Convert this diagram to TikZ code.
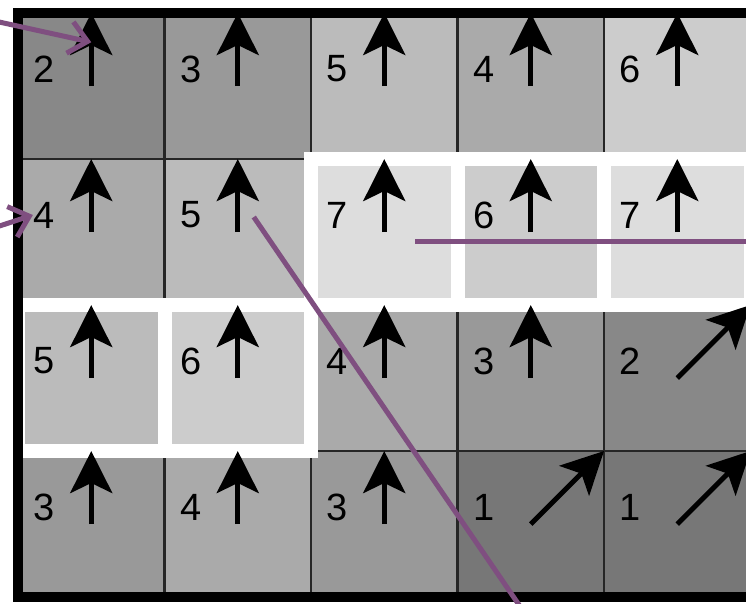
\documentclass[tikz,border=0pt]{standalone}
\usepackage{fontspec}
\setmainfont{Liberation Sans}
\usetikzlibrary{positioning,arrows.meta,calc}

\definecolor{lv1}{HTML}{777777}
\definecolor{lv2}{HTML}{888888}
\definecolor{lv3}{HTML}{999999}
\definecolor{lv4}{HTML}{AAAAAA}
\definecolor{lv5}{HTML}{BBBBBB}
\definecolor{lv6}{HTML}{CCCCCC}
\definecolor{lv7}{HTML}{DDDDDD}
\definecolor{notecol}{HTML}{7F4F80}

\begin{document}
\begin{tikzpicture}[
		x=0.25pt, y=-0.25pt,
		node distance=0pt,
		cell/.style={rectangle, draw=black!85, line width=0.6pt, fill=lv#1,
			minimum width=36.625pt, minimum height=36.5pt, inner sep=0pt, outer sep=0pt},
		num/.style={inner sep=0pt, font=\fontsize{9.5}{10}\selectfont},
		dir/.style={line width=1.25pt, -{Stealth[length=10.5pt, width=10.5pt, inset=2.5pt]}},
		hilite/.style={draw=white, line width=3.5pt},
		frame/.style={draw=black, line width=2.5pt},
		note/.style={draw=notecol, line width=1.25pt},
		notearrow/.style={note, -{Straight Barb[length=4.5pt, width=8pt]}}
	]
	\clip (0,0) rectangle (746,603);
	% grid of values
	\node[cell=2] (c11) at (91.25,86) {};
	\node[cell=3, right=of c11] (c12) {};
	\node[cell=5, right=of c12] (c13) {};
	\node[cell=4, right=of c13] (c14) {};
	\node[cell=6, right=of c14] (c15) {};
	\node[cell=4, below=of c11] (c21) {};
	\node[cell=5, right=of c21] (c22) {};
	\node[cell=7, right=of c22] (c23) {};
	\node[cell=6, right=of c23] (c24) {};
	\node[cell=7, right=of c24] (c25) {};
	\node[cell=5, below=of c21] (c31) {};
	\node[cell=6, right=of c31] (c32) {};
	\node[cell=4, right=of c32] (c33) {};
	\node[cell=3, right=of c33] (c34) {};
	\node[cell=2, right=of c34] (c35) {};
	\node[cell=3, below=of c31] (c41) {};
	\node[cell=4, right=of c41] (c42) {};
	\node[cell=3, right=of c42] (c43) {};
	\node[cell=1, right=of c43] (c44) {};
	\node[cell=1, right=of c44] (c45) {};
	% highlighted cells
	\draw[hilite] (c23.north west) rectangle (c23.south east);
	\draw[hilite] (c24.north west) rectangle (c24.south east);
	\draw[hilite] (c25.north west) rectangle (c25.south east);
	\draw[hilite] (c31.north west) rectangle (c31.south east);
	\draw[hilite] (c32.north west) rectangle (c32.south east);
	% numbers
	\node[num] (n11) at ($(c11.center)+(-47,-17)$) {2};
	\node[num] (n12) at ($(c12.center)+(-47,-17)$) {3};
	\node[num] (n13) at ($(c13.center)+(-47,-17)$) {5};
	\node[num] (n14) at ($(c14.center)+(-47,-17)$) {4};
	\node[num] (n15) at ($(c15.center)+(-47,-17)$) {6};
	\node[num] (n21) at ($(c21.center)+(-47,-17)$) {4};
	\node[num] (n22) at ($(c22.center)+(-47,-17)$) {5};
	\node[num] (n23) at ($(c23.center)+(-47,-17)$) {7};
	\node[num] (n24) at ($(c24.center)+(-47,-17)$) {6};
	\node[num] (n25) at ($(c25.center)+(-47,-17)$) {7};
	\node[num] (n31) at ($(c31.center)+(-47,-17)$) {5};
	\node[num] (n32) at ($(c32.center)+(-47,-17)$) {6};
	\node[num] (n33) at ($(c33.center)+(-47,-17)$) {4};
	\node[num] (n34) at ($(c34.center)+(-47,-17)$) {3};
	\node[num] (n35) at ($(c35.center)+(-47,-17)$) {2};
	\node[num] (n41) at ($(c41.center)+(-47,-17)$) {3};
	\node[num] (n42) at ($(c42.center)+(-47,-17)$) {4};
	\node[num] (n43) at ($(c43.center)+(-47,-17)$) {3};
	\node[num] (n44) at ($(c44.center)+(-47,-17)$) {1};
	\node[num] (n45) at ($(c45.center)+(-47,-17)$) {1};
	% directions
	\draw[dir] (c11.center) -- (c11.north);
	\draw[dir] (c12.center) -- (c12.north);
	\draw[dir] (c13.center) -- (c13.north);
	\draw[dir] (c14.center) -- (c14.north);
	\draw[dir] (c15.center) -- (c15.north);
	\draw[dir] (c21.center) -- (c21.north);
	\draw[dir] (c22.center) -- (c22.north);
	\draw[dir] (c23.center) -- (c23.north);
	\draw[dir] (c24.center) -- (c24.north);
	\draw[dir] (c25.center) -- (c25.north);
	\draw[dir] (c31.center) -- (c31.north);
	\draw[dir] (c32.center) -- (c32.north);
	\draw[dir] (c33.center) -- (c33.north);
	\draw[dir] (c34.center) -- (c34.north);
	\draw[dir] (c35.center) -- (c35.north east);
	\draw[dir] (c41.center) -- (c41.north);
	\draw[dir] (c42.center) -- (c42.north);
	\draw[dir] (c43.center) -- (c43.north);
	\draw[dir] (c44.center) -- (c44.north east);
	\draw[dir] (c45.center) -- (c45.north east);
	% outer frame
	\draw[frame] (c11.north west) rectangle (c45.south east);
	% pointers from outside
	\coordinate (src1) at (-60,9);
	\coordinate (tip1) at ($(c11.north)!0.4!(c11.center)$);
	\coordinate (src2) at (-40,239);
	\coordinate (from3) at ($(c22.center)+(16,-15)$);
	\coordinate (end3) at (543,640);
	\coordinate (from4) at ($(c23.center)+(31,9)$);
	\coordinate (end4) at (800,241);
	\draw[notearrow] (src1) -- (tip1);
	\draw[notearrow] (src2) -- (n21.west);
	\draw[note] (from3) -- (end3);
	\draw[note] (from4) -- (end4);
\end{tikzpicture}
\end{document}
